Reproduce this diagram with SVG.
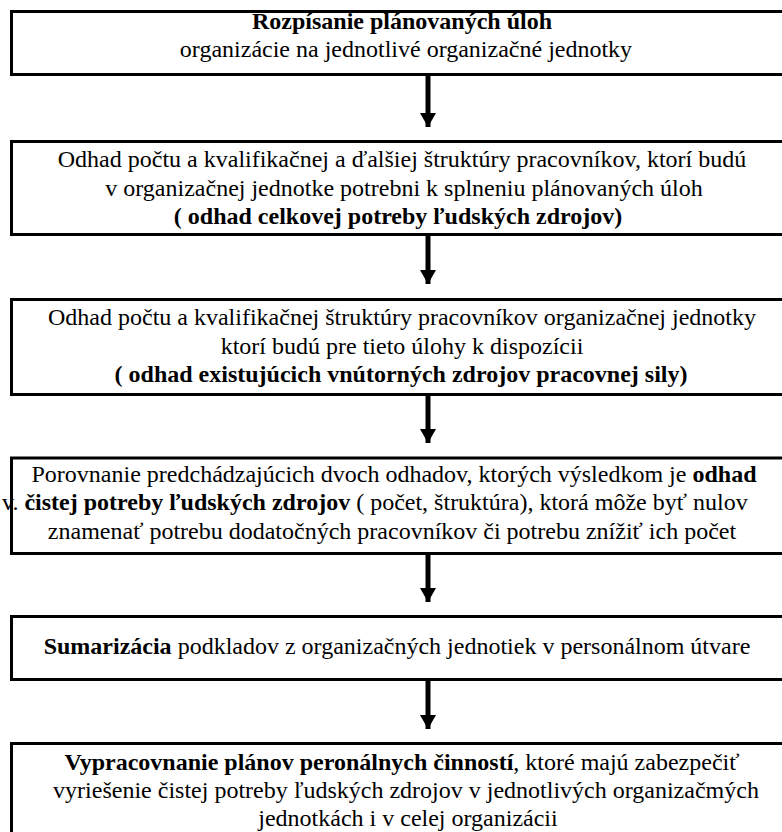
<svg xmlns="http://www.w3.org/2000/svg" width="782" height="832" viewBox="0 0 782 832">
<defs>
<marker id="ah" markerUnits="userSpaceOnUse" markerWidth="16" markerHeight="14" viewBox="0 0 16 14" refX="8" refY="14" orient="0">
<path d="M0,0 L16,0 L8,14 Z" fill="#000"/>
</marker>
</defs>
<style>
.box{fill:#fff;stroke:#000;stroke-width:3}
.t{font-size:24px;fill:#000}
.c{text-anchor:middle}
.b{font-weight:bold}
.arr{stroke:#000;stroke-width:5;fill:none}
</style>
<rect width="782" height="832" fill="#fff"/>
<g id="connectors">
<line class="arr" x1="428" y1="76" x2="428" y2="127" marker-end="url(#ah)"/>
<line class="arr" x1="428" y1="236" x2="428" y2="284" marker-end="url(#ah)"/>
<line class="arr" x1="428" y1="396" x2="428" y2="443" marker-end="url(#ah)"/>
<line class="arr" x1="428" y1="555" x2="428" y2="602" marker-end="url(#ah)"/>
<line class="arr" x1="428" y1="681" x2="428" y2="729" marker-end="url(#ah)"/>
</g>
<g font-family="'Liberation Serif', 'Times New Roman', 'DejaVu Serif', serif">
<g id="n1">
<rect class="box" x="11.5" y="11.5" width="800" height="63"/>
<text class="t c b" x="402" y="29">Rozpísanie plánovaných úloh</text>
<text class="t c" x="406" y="57">organizácie na jednotlivé organizačné jednotky</text>
</g>
<g id="n2">
<rect class="box" x="11.5" y="141.5" width="800" height="93"/>
<text class="t c" x="402" y="167">Odhad počtu a kvalifikačnej a ďalšiej štruktúry pracovníkov, ktorí budú</text>
<text class="t c" x="404" y="196">v organizačnej jednotke potrebni k splneniu plánovaných úloh</text>
<text class="t c b" x="398" y="224">( odhad celkovej potreby ľudských zdrojov)</text>
</g>
<g id="n3">
<rect class="box" x="11.5" y="299.5" width="800" height="95"/>
<text class="t c" x="402" y="325">Odhad počtu a kvalifikačnej štruktúry pracovníkov organizačnej jednotky</text>
<text class="t c" x="402" y="354">ktorí budú pre tieto úlohy k dispozícii</text>
<text class="t c b" x="401" y="382">( odhad existujúcich vnútorných zdrojov pracovnej sily)</text>
</g>
<g id="n4">
<rect class="box" x="11.5" y="458" width="800" height="95.5"/>
<text class="t c" x="394" y="482">Porovnanie predchádzajúcich dvoch odhadov, ktorých výsledkom je <tspan class="b">odhad</tspan></text>
<text class="t" x="2" y="510">v. <tspan class="b">čistej potreby ľudských zdrojov</tspan> ( počet, štruktúra), ktorá môže byť nulov</text>
<text class="t c" x="392" y="539">znamenať potrebu dodatočných pracovníkov či potrebu znížiť ich počet</text>
</g>
<g id="n5">
<rect class="box" x="11.5" y="616.5" width="800" height="63"/>
<text class="t c" x="397" y="654"><tspan class="b">Sumarizácia</tspan> podkladov z organizačných jednotiek v personálnom útvare</text>
</g>
<g id="n6">
<rect class="box" x="11.5" y="743.5" width="800" height="120"/>
<text class="t c" x="402" y="770"><tspan class="b">Vypracovnanie plánov peronálnych činností</tspan>, ktoré majú zabezpečiť</text>
<text class="t c" x="406" y="798">vyriešenie čistej potreby ľudských zdrojov v jednotlivých organizačmých</text>
<text class="t c" x="408" y="826">jednotkách i v celej organizácii</text>
</g>
</g>
</svg>
